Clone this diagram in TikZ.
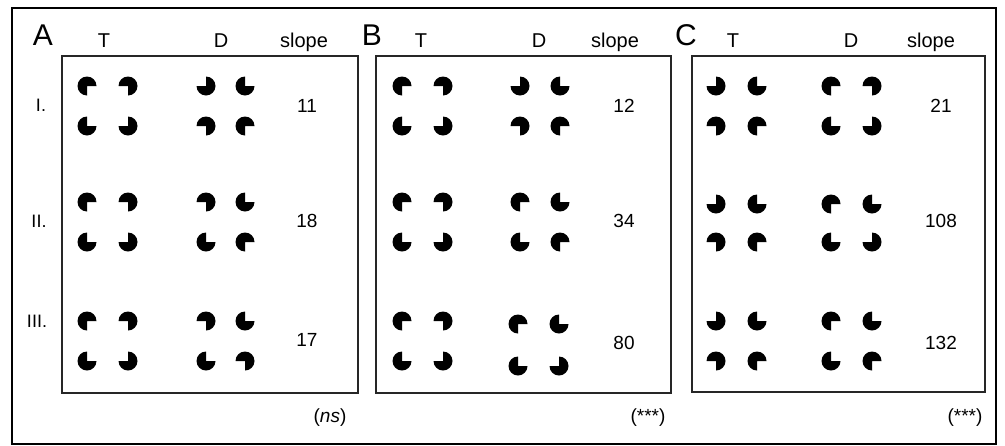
\documentclass[tikz,border=0pt]{standalone}
\usepackage{fontspec}
\setmainfont{Liberation Sans}
\newcommand\quadpac[8]{%
  \pic at (#1,#3) {pac=#5}; \pic at (#2,#3) {pac=#6};
  \pic at (#1,#4) {pac=#7}; \pic at (#2,#4) {pac=#8};}
\tikzset{
  pac/.pic={\fill[black,yscale=-1] (0,0) -- (#1:9.5) arc[start angle=#1, end angle=#1+270, radius=9.5] -- cycle;},
  frame/.style={draw=black, line width=1.6pt},
  panel/.style={draw=black!85, line width=1.4pt},
  head/.style={font=\fontsize{20}{24}\selectfont, anchor=base, inner sep=0pt},
  letter/.style={font=\fontsize{30}{36}\selectfont, anchor=base, inner sep=0pt},
  num/.style={font=\fontsize{19}{23}\selectfont, inner sep=0pt},
  rowlab/.style={font=\fontsize{18}{22}\selectfont, inner sep=0pt},
  sig/.style={font=\fontsize{19}{23}\selectfont, inner sep=0pt},
}
\begin{document}
\begin{tikzpicture}[x=1pt,y=-1pt]
\useasboundingbox (0,0) rectangle (1005,445);
\draw[frame] (12,8) rectangle (996,444);
% panel boxes
\draw[panel] (62,56) rectangle (358,393);
\draw[panel] (376,56) rectangle (671,393);
\draw[panel] (692,56) rectangle (985,392);
% headers
\node[letter] (la) at (43,45) {A};
\node[head] (ta) at (104,47) {T};
\node[head] (da) at (221,47) {D};
\node[head] (sa) at (304,47) {slope};
\node[letter] (lb) at (372,45) {B};
\node[head] (tb) at (421,47) {T};
\node[head] (db) at (539,47) {D};
\node[head] (sb) at (615,47) {slope};
\node[letter] (lc) at (686,45) {C};
\node[head] (tc) at (733,47) {T};
\node[head] (dc) at (851,47) {D};
\node[head] (sc) at (931,47) {slope};
% row labels
\node[rowlab] (r1) at (41,105) {I.};
\node[rowlab] (r2) at (39,221) {II.};
\node[rowlab] (r3) at (37,321) {III.};
% panel A
\quadpac{87}{128}{86}{126}{0}{-90}{90}{180}
\quadpac{206}{245}{86}{126}{180}{90}{-90}{0}
\quadpac{87}{128}{202}{242}{0}{-90}{90}{180}
\quadpac{206}{245}{202}{242}{-90}{90}{90}{0}
\quadpac{87}{128}{321}{361}{0}{-90}{90}{180}
\quadpac{206}{245}{321}{361}{-90}{90}{90}{-90}
% panel B
\quadpac{402}{443}{86}{126}{0}{-90}{90}{180}
\quadpac{520}{560}{86}{126}{180}{90}{-90}{0}
\quadpac{402}{443}{202}{242}{0}{-90}{90}{180}
\quadpac{520}{560}{202}{242}{0}{90}{90}{0}
\quadpac{402}{443}{321}{361}{0}{-90}{90}{180}
\quadpac{518}{559}{324}{366}{0}{90}{90}{180}
% panel C
\quadpac{716}{757}{86}{126}{180}{90}{-90}{0}
\quadpac{831}{872}{86}{126}{0}{-90}{90}{180}
\quadpac{716}{757}{204}{242}{180}{90}{-90}{0}
\quadpac{831}{872}{204}{242}{0}{90}{90}{180}
\quadpac{716}{757}{321}{361}{180}{90}{-90}{0}
\quadpac{831}{872}{321}{361}{0}{90}{90}{0}
% slopes
\node[num] (na1) at (307,106) {11};
\node[num] (na2) at (307,221) {18};
\node[num] (na3) at (307,340) {17};
\node[num] (nb1) at (624,106) {12};
\node[num] (nb2) at (624,221) {34};
\node[num] (nb3) at (624,343) {80};
\node[num] (nc1) at (941,106) {21};
\node[num] (nc2) at (941,221) {108};
\node[num] (nc3) at (941,343) {132};
% significance
\node[sig] (sga) at (330,418) {(\textit{ns})};
\node[sig] (sgb) at (648,418) {(***)};
\node[sig] (sgc) at (965,418) {(***)};
\end{tikzpicture}
\end{document}
